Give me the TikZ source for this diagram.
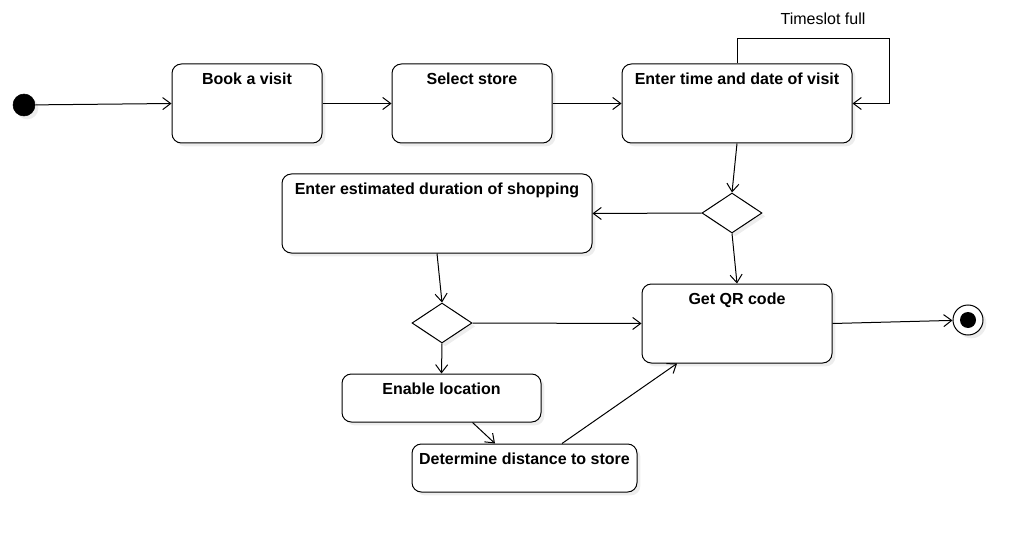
\documentclass[tikz,border=0pt]{standalone}
\usepackage{fontspec}
\setmainfont{Liberation Sans}
\usetikzlibrary{arrows.meta,shapes.geometric,shadows,calc}
\tikzset{
  shd/.style={drop shadow={shadow xshift=2.5pt,shadow yshift=-2.5pt,opacity=1,fill=black!7}},
  act/.style={draw,rounded corners=7pt,line width=0.75pt,fill=white,shd,inner sep=0pt},
  dec/.style={draw,diamond,line width=0.75pt,fill=white,shd,minimum width=45pt,minimum height=30pt,inner sep=0pt},
  conn/.style={line width=0.75pt,-{Straight Barb[length=6pt,width=9pt,line width=0.75pt]}},
  ttl/.style={anchor=north,inner sep=0pt,yshift=-6.5pt,font=\fontsize{12}{14}\selectfont\bfseries}
}
\begin{document}
\begin{tikzpicture}[x=0.75pt,y=-0.75pt]
\useasboundingbox (0,0) rectangle (1033,542);
% start / end
\node[circle,fill=black,draw=black,minimum size=16.5pt,inner sep=0pt,shd] (init) at (24,105) {};
\node[circle,draw=black,fill=white,line width=0.75pt,minimum size=22.5pt,inner sep=0pt,shd] (final) at (968,320) {};
\node[circle,fill=black,minimum size=12pt,inner sep=0pt] (finalin) at (final.center) {};
% activities
\node[act,minimum width=112.5pt,minimum height=59.25pt,label={[ttl]north:Book a visit}] (book) at (247,103.5) {};
\node[act,minimum width=120pt,minimum height=59.25pt,label={[ttl]north:Select store}] (store) at (472,103.5) {};
\node[act,minimum width=172.5pt,minimum height=59.25pt,label={[ttl]north:Enter time and date of visit}] (time) at (737,103.5) {};
\node[act,minimum width=232.5pt,minimum height=59.25pt,label={[ttl]north:Enter estimated duration of shopping}] (dur) at (437,213.5) {};
\node[act,minimum width=142.5pt,minimum height=59.25pt,label={[ttl]north:Get QR code}] (qr) at (737,323.5) {};
\node[act,minimum width=149.25pt,minimum height=36pt,label={[ttl]north:Enable location}] (loc) at (441.5,398) {};
\node[act,minimum width=168.75pt,minimum height=36pt,label={[ttl]north:Determine distance to store}] (dist) at (524.5,468) {};
% decisions
\node[dec] (d1) at (732,213) {};
\node[dec] (d2) at (442,323) {};
% loop corner and label
\coordinate (lp) at (889,39);
\node[font=\fontsize{12}{14}\selectfont] (tsf) at (823,19) {Timeslot full};
% connectors
\draw[conn] (init) -- (book.west);
\draw[conn] (book.east) -- (store.west);
\draw[conn] (store.east) -- (time.west);
\draw[conn] (time.north) |- (lp) |- (time.east);
\draw[conn] (time.south) -- (d1.north);
\draw[conn] (d1.west) -- (dur.east);
\draw[conn] (d1.south) -- (qr.north);
\draw[conn] (dur.south) -- (d2.north);
\draw[conn] (d2.east) -- (qr.west);
\draw[conn] (d2.south) -- (loc.north);
\draw[conn] ($(loc.south)+(31,0)$) -- ($(dist.north)+(-29.5,0)$);
\draw[conn] ($(dist.north)+(37.5,0)$) -- ($(qr.south)+(-60,0)$);
\draw[conn] (qr.east) -- (final);
\end{tikzpicture}
\end{document}
